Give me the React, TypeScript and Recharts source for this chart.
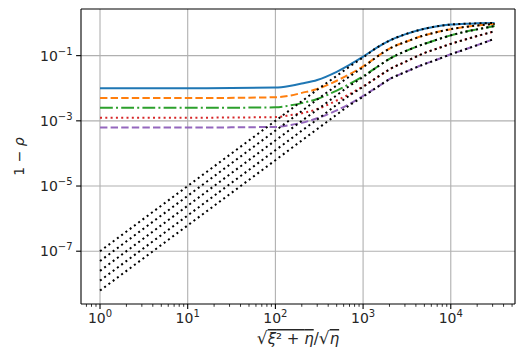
import { LineChart, Line, XAxis, YAxis, ReferenceLine, Label } from 'recharts';

// sample positions along sqrt(xi^2 + eta)/sqrt(eta)
const xs = [1, 10, 100, 150, 200, 300, 500, 700, 1000, 1500, 2000, 3000, 5000, 7000, 10000, 15000, 20000, 31623];

// coloured curves (1 - rho)
const blueSolid = [0.01, 0.01, 0.0105, 0.012, 0.014, 0.018, 0.032, 0.052, 0.093, 0.19, 0.29, 0.45, 0.67, 0.8, 0.9, 0.96, 0.98, 1.0];
const orangeDashed = [0.005, 0.005, 0.0053, 0.006, 0.0072, 0.0095, 0.017, 0.027, 0.047, 0.1, 0.165, 0.26, 0.42, 0.53, 0.65, 0.77, 0.84, 0.94];
const greenDashDot = [0.0025, 0.0025, 0.0026, 0.003, 0.0035, 0.0047, 0.0085, 0.0135, 0.0235, 0.048, 0.08, 0.135, 0.23, 0.31, 0.42, 0.55, 0.64, 0.81];
const redDotted = [0.00125, 0.00125, 0.0013, 0.0015, 0.0017, 0.0023, 0.0042, 0.0066, 0.0115, 0.023, 0.038, 0.064, 0.12, 0.165, 0.23, 0.32, 0.4, 0.56];
const purpleDashed = [0.000625, 0.000625, 0.00065, 0.00075, 0.00087, 0.0012, 0.0021, 0.0033, 0.0058, 0.0115, 0.019, 0.031, 0.055, 0.076, 0.11, 0.16, 0.21, 0.33];

// black dotted approximations
const approx1 = [1e-7, 1e-5, 1e-3, 2.25e-3, 4e-3, 9e-3, 0.024, 0.046, 0.088, 0.19, 0.29, 0.45, 0.67, 0.8, 0.9, 0.96, 0.98, 1.0];
const approx2 = [5e-8, 5e-6, 5e-4, 1.12e-3, 2e-3, 4.5e-3, 0.0122, 0.023, 0.044, 0.1, 0.165, 0.26, 0.42, 0.53, 0.65, 0.77, 0.84, 0.94];
const approx3 = [2.5e-8, 2.5e-6, 2.5e-4, 5.6e-4, 1e-3, 2.2e-3, 6.1e-3, 0.0118, 0.022, 0.048, 0.08, 0.135, 0.23, 0.31, 0.42, 0.55, 0.64, 0.81];
const approx4 = [1.25e-8, 1.25e-6, 1.25e-4, 2.8e-4, 5e-4, 1.1e-3, 3.1e-3, 6e-3, 0.011, 0.023, 0.038, 0.064, 0.12, 0.165, 0.23, 0.32, 0.4, 0.56];
const approx5 = [6.2e-9, 6.2e-7, 6.2e-5, 1.4e-4, 2.5e-4, 5.6e-4, 1.55e-3, 3e-3, 0.0055, 0.0115, 0.019, 0.031, 0.055, 0.076, 0.11, 0.16, 0.21, 0.33];

const xMajor = [1, 10, 100, 1000, 10000];
const xMinor = [0.7, 0.8, 0.9, 2, 3, 4, 5, 6, 7, 8, 9, 20, 30, 40, 50, 60, 70, 80, 90,
  200, 300, 400, 500, 600, 700, 800, 900, 2000, 3000, 4000, 5000, 6000, 7000, 8000, 9000,
  20000, 30000, 40000, 50000];
const yMajor = [1e-7, 1e-5, 1e-3, 1e-1];

const X_DOMAIN = [0.607, 54000];
const Y_DOMAIN = [2.4e-9, 2.7];

const data = xs.map((x, i) => ({
  x,
  blue: blueSolid[i],
  orange: orangeDashed[i],
  green: greenDashDot[i],
  red: redDotted[i],
  purple: purpleDashed[i],
  k1: approx1[i],
  k2: approx2[i],
  k3: approx3[i],
  k4: approx4[i],
  k5: approx5[i],
}));

const FONT = 'DejaVu Sans, sans-serif';
const TXT = '#262626';

const expText = (v: number) => {
  const e = Math.round(Math.log10(v));
  return e < 0 ? '\u2212' + Math.abs(e) : String(e);
};

const XTick = (props: any) => {
  const { x, y, payload } = props;
  const v = payload.value;
  const major = xMajor.includes(v);
  return (
    <g>
      <line x1={x} x2={x} y1={y} y2={y + (major ? 4.9 : 2.8)} stroke="#000" strokeWidth={major ? 1.1 : 0.8} />
      {major && (
        <text x={x} y={y + 19} textAnchor="middle" fontSize={14} fontFamily={FONT} fill={TXT}>
          <tspan>10</tspan>
          <tspan dy={-6} fontSize={10}>{expText(v)}</tspan>
        </text>
      )}
    </g>
  );
};

const YTick = (props: any) => {
  const { x, y, payload } = props;
  return (
    <text x={x} y={y + 5} textAnchor="end" fontSize={14} fontFamily={FONT} fill={TXT}>
      <tspan>10</tspan>
      <tspan dy={-6} fontSize={10}>{expText(payload.value)}</tspan>
    </text>
  );
};

const XLabel = (props: any) => {
  const vb = props.viewBox;
  const cx = vb.x + vb.width / 2;
  return (
    <text x={cx} y={344} textAnchor="middle" fontSize={15} fontFamily={FONT} fill={TXT}>
      <tspan fontSize={17}>√</tspan>
      <tspan style={{ textDecoration: 'overline' }}>
        <tspan fontStyle="italic">ξ</tspan>
        <tspan>² + </tspan>
        <tspan fontStyle="italic">η</tspan>
      </tspan>
      <tspan>/</tspan>
      <tspan fontSize={17}>√</tspan>
      <tspan fontStyle="italic" style={{ textDecoration: 'overline' }}>η</tspan>
    </text>
  );
};

const YLabel = (props: any) => {
  const vb = props.viewBox;
  const cy = vb.y + vb.height / 2;
  return (
    <text x={24} y={cy} transform={`rotate(-90 24 ${cy})`} textAnchor="middle" fontSize={14} fontFamily={FONT} fill={TXT}>
      <tspan>1 − </tspan>
      <tspan fontStyle="italic">ρ</tspan>
    </text>
  );
};

const colored = [
  { key: 'blue', color: '#1f77b4', dash: undefined },
  { key: 'orange', color: '#ff7f0e', dash: '7.4 3.2' },
  { key: 'green', color: '#2ca02c', dash: '12.8 3.2 2 3.2' },
  { key: 'red', color: '#d62728', dash: '2 3.3' },
  { key: 'purple', color: '#9467bd', dash: '7.4 3.2' },
];
const approxKeys = ['k1', 'k2', 'k3', 'k4', 'k5'];

export default function App() {
  return (
    <div style={{ position: 'absolute', left: 0, top: 0, background: '#fff' }}>
      <LineChart width={527} height={359} data={data} margin={{ top: 9, right: 12, bottom: 0, left: 0 }}>
        {xMajor.map((v) => (
          <ReferenceLine key={'gx' + v} x={v} stroke="#b0b0b0" strokeWidth={1.1} />
        ))}
        {yMajor.map((v) => (
          <ReferenceLine key={'gy' + v} y={v} stroke="#b0b0b0" strokeWidth={1.1} />
        ))}
        <ReferenceLine y={Y_DOMAIN[1]} stroke="#000" strokeWidth={1.1} ifOverflow="visible" />
        <ReferenceLine x={X_DOMAIN[1]} stroke="#000" strokeWidth={1.1} ifOverflow="visible" />
        <XAxis
          dataKey="x"
          type="number"
          scale="log"
          domain={X_DOMAIN}
          allowDataOverflow
          ticks={[...xMajor, ...xMinor].sort((a, b) => a - b)}
          interval={0}
          tickSize={0}
          tickMargin={0}
          tick={<XTick />}
          height={55}
          axisLine={{ stroke: '#000', strokeWidth: 1.1 }}
        >
          <Label content={<XLabel />} />
        </XAxis>
        <YAxis
          type="number"
          scale="log"
          domain={Y_DOMAIN}
          allowDataOverflow
          ticks={yMajor}
          interval={0}
          width={81}
          tickSize={4.9}
          tickMargin={3.5}
          tick={<YTick />}
          tickLine={{ stroke: '#000', strokeWidth: 1.1 }}
          axisLine={{ stroke: '#000', strokeWidth: 1.1 }}
        >
          <Label content={<YLabel />} />
        </YAxis>
        {colored.map((s) => (
          <Line
            key={s.key}
            dataKey={s.key}
            type="monotone"
            stroke={s.color}
            strokeWidth={2}
            strokeDasharray={s.dash}
            dot={false}
            activeDot={false}
            isAnimationActive={false}
          />
        ))}
        {approxKeys.map((k) => (
          <Line
            key={k}
            dataKey={k}
            type="monotone"
            stroke="#000"
            strokeWidth={2}
            strokeDasharray="2 3.3"
            dot={false}
            activeDot={false}
            isAnimationActive={false}
          />
        ))}
      </LineChart>
    </div>
  );
}
